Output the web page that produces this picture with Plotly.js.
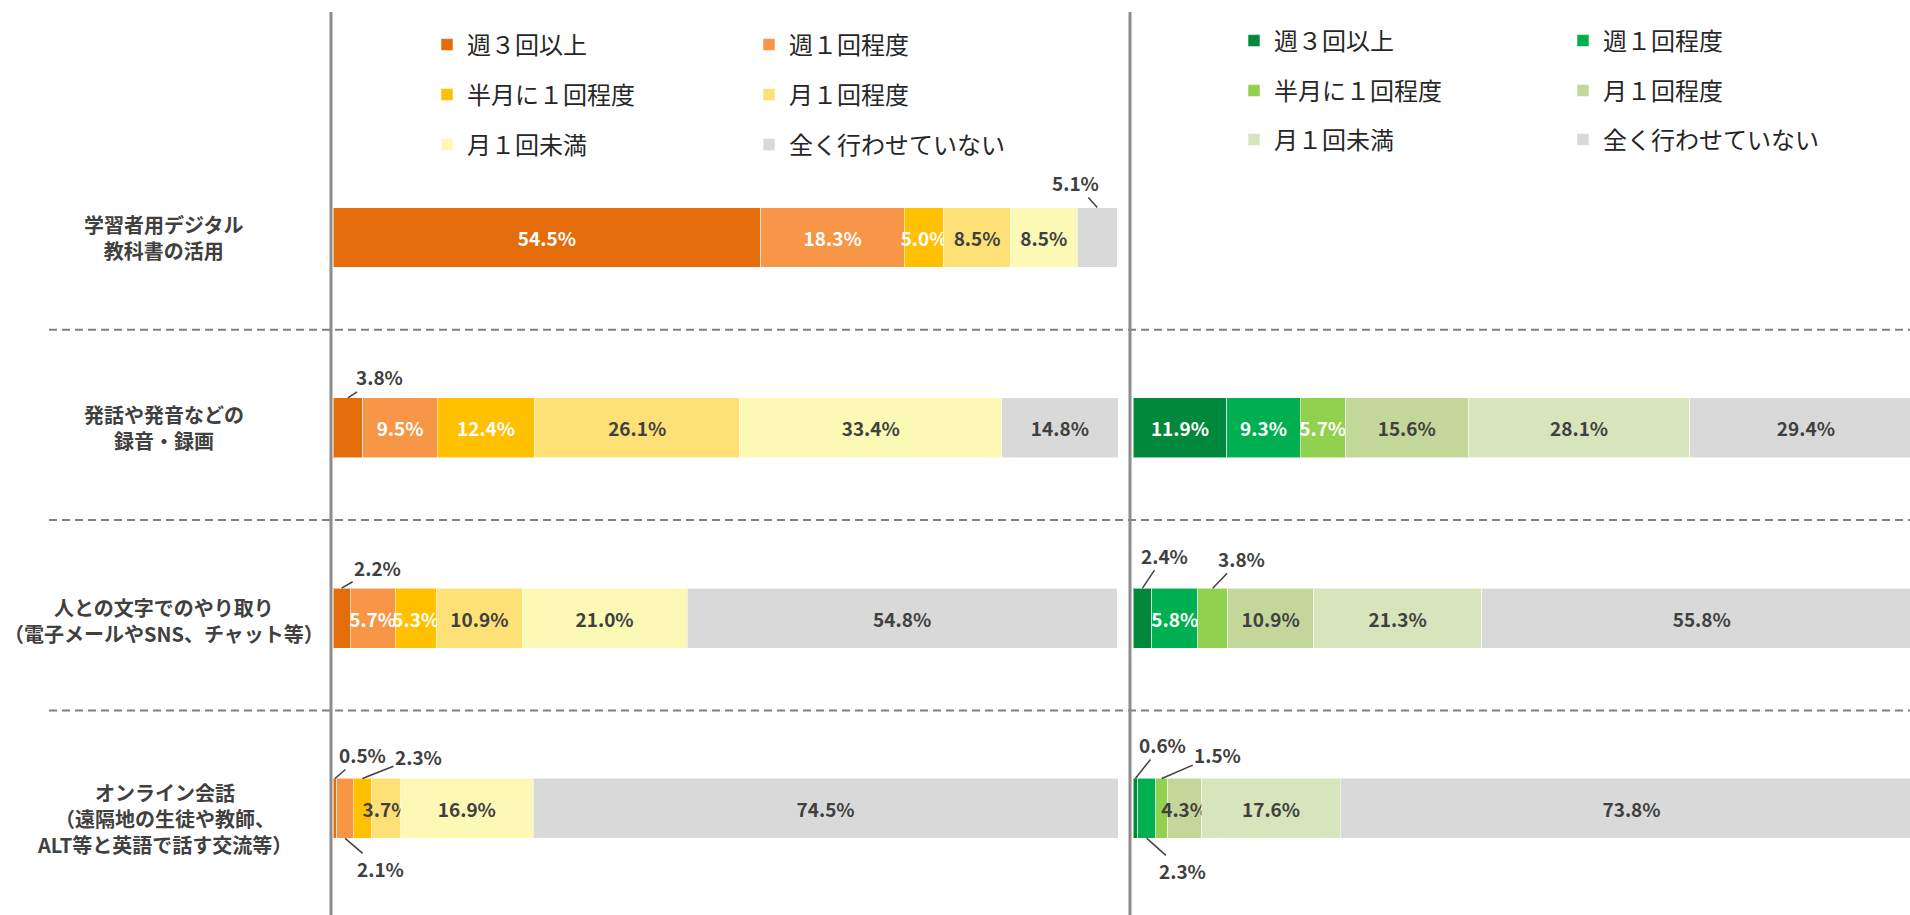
<!DOCTYPE html>
<html><head><meta charset="utf-8">
<script src="https://cdn.plot.ly/plotly-3.0.1.min.js"></script>
<style>html,body{margin:0;padding:0;background:#fff;}#chart{width:1910px;height:915px;}</style>
</head><body><div id="chart"></div>
<script>
// ---- data ----
const categories = [
  '学習者用デジタル<br>教科書の活用',
  '発話や発音などの<br>録音・録画',
  '人との文字でのやり取り<br>（電子メールやSNS、チャット等）',
  'オンライン会話<br>（遠隔地の生徒や教師、<br>ALT等と英語で話す交流等）'
];
const seriesNames = ['週３回以上','週１回程度','半月に１回程度','月１回程度','月１回未満','全く行わせていない'];

const left_week3  = [54.5, 3.8, 2.2, 0.5];
const left_week1  = [18.3, 9.5, 5.7, 2.1];
const left_half   = [5.0, 12.4, 5.3, 2.3];
const left_month1 = [8.5, 26.1, 10.9, 3.7];
const left_less   = [8.5, 33.4, 21.0, 16.9];
const left_never  = [5.1, 14.8, 54.8, 74.5];

const right_week3  = [null, 11.9, 2.4, 0.6];
const right_week1  = [null, 9.3, 5.8, 2.3];
const right_half   = [null, 5.7, 3.8, 1.5];
const right_month1 = [null, 15.6, 10.9, 4.3];
const right_less   = [null, 28.1, 21.3, 17.6];
const right_never  = [null, 29.4, 55.8, 73.8];

const leftSeries  = [left_week3, left_week1, left_half, left_month1, left_less, left_never];
const rightSeries = [right_week3, right_week1, right_half, right_month1, right_less, right_never];

// labels drawn outside the bar with a leader line: panel, row, series, label offset (px)
const callouts = [
  {panel:0,row:0,series:5,ax:-22,ay:-25},
  {panel:0,row:1,series:0,ax:32,ay:-21},
  {panel:0,row:2,series:0,ax:36,ay:-21},
  {panel:0,row:3,series:0,ax:28,ay:-24},
  {panel:0,row:3,series:1,ax:35,ay:30},
  {panel:0,row:3,series:2,ax:56,ay:-22},
  {panel:1,row:2,series:0,ax:22,ay:-33},
  {panel:1,row:2,series:2,ax:29,ay:-30},
  {panel:1,row:3,series:0,ax:27,ay:-34},
  {panel:1,row:3,series:1,ax:36,ay:32},
  {panel:1,row:3,series:2,ax:56,ay:-24}
];

// ---- styles ----
const leftColors  = ['#E46C0A','#F79646','#FFC000','#FDE176','#FCF8B6','#D9D9D9'];
const rightColors = ['#00893D','#00B050','#92D050','#C4D79B','#D8E4BC','#D9D9D9'];
const textColors  = ['#FFFFFF','#FFFFFF','#FFFFFF','#404040','#404040','#404040'];
const FONT = '"Noto Sans CJK JP", "Noto Sans", sans-serif';
const W = 1910, H = 915;
const BARW = 0.315;
const labelShift = [0, 0, -2, -10];

// legend placement (px): legend left x, text center y
const legendPos = [
  [[427,45],[749,45],[427,95],[749,95],[427,145],[749,145]],
  [[1234,41],[1563,41],[1234,91],[1563,91],[1234,140],[1563,140]]
];

function isCallout(p, r, s){ return callouts.some(c => c.panel===p && c.row===r && c.series===s); }

const traces = [];
const layout = {
  width: W, height: H,
  margin: {l:0, r:0, t:0, b:0},
  paper_bgcolor: '#fff', plot_bgcolor: 'rgba(0,0,0,0)',
  barmode: 'stack', bargap: 1 - BARW,
  showlegend: true,
  font: {family: FONT, color: '#404040'},
  xaxis:  {domain:[333/W, 1118/W], range:[0,100], visible:false, fixedrange:true},
  xaxis2: {domain:[1133/W, 1], range:[0,98.5], visible:false, anchor:'y', fixedrange:true},
  yaxis:  {type:'category', categoryarray: categories, range:[3.56,-1.248], autorange:false,
           showticklabels:false, showgrid:false, zeroline:false, showline:false, ticks:''},
  shapes: [], annotations: []
};

[leftSeries, rightSeries].forEach((series, p) => {
  const colors = p === 0 ? leftColors : rightColors;
  series.forEach((vals, s) => {
    const n = p*6 + s + 1;
    const lname = 'legend' + (n === 1 ? '' : n);
    traces.push({
      type:'bar', orientation:'h', name: seriesNames[s],
      x: vals, y: categories,
      xaxis: p === 0 ? 'x' : 'x2', yaxis: 'y',
      marker: {color: colors[s], line:{color:'rgba(255,255,255,0.55)', width:1}},
      text: vals.map((v, r) => (v === null || isCallout(p, r, s)) ? '' : v.toFixed(1) + '%'),
      textposition: 'inside', insidetextanchor: 'middle', constraintext: 'none', textangle: 0,
      insidetextfont: {family: FONT, size: 19, color: textColors[s], weight: 700},
      hoverinfo: 'skip',
      legend: lname
    });
    const pos = legendPos[p][s];
    layout[lname] = {
      x: pos[0] / W, y: 1 - pos[1] / H, xanchor:'left', yanchor:'middle',
      orientation:'v', bgcolor:'rgba(0,0,0,0)', borderwidth:0,
      font:{family: FONT, size: 24, color:'#262626'},
      itemclick:false, itemdoubleclick:false
    };
  });
});

// callout annotations anchored on the segment midpoint at the bar edge
callouts.forEach(c => {
  const series = c.panel === 0 ? leftSeries : rightSeries;
  let before = 0;
  for (let k = 0; k < c.series; k++) before += series[k][c.row] || 0;
  const v = series[c.series][c.row];
  layout.annotations.push({
    xref: c.panel === 0 ? 'x' : 'x2', yref: 'y',
    x: before + v/2, y: c.row + (c.ay < 0 ? -BARW/2 : BARW/2),
    text: v.toFixed(1) + '%', showarrow: true, arrowhead: 0, arrowwidth: 1.5,
    arrowcolor: '#404040', standoff: 0, ax: c.ax, ay: c.ay,
    font: {family: FONT, size: 19, color: '#404040', weight: 700}
  });
});

// category labels
categories.forEach((cat, i) => {
  layout.annotations.push({
    xref:'paper', yref:'y', x: 164/W, y: i, xanchor:'center', yanchor:'middle',
    yshift: labelShift[i],
    text: cat, showarrow:false, align:'center',
    font:{family: FONT, size: 20, color:'#404040', weight: 700}
  });
});

// separators between categories
for (let i = 0; i < categories.length - 1; i++) {
  layout.shapes.push({type:'line', xref:'paper', yref:'y', x0: 49/W, x1: 1, y0: i + 0.485, y1: i + 0.485,
    line:{color:'#808080', width:2, dash:'8px,5px'}});
}
// panel axis lines
[331/W, 1130/W].forEach(xp => {
  layout.shapes.push({type:'line', xref:'paper', yref:'paper', x0: xp, x1: xp, y0: 0, y1: 1 - 12/H,
    line:{color:'#8C8C8C', width:3}});
});

Plotly.newPlot('chart', traces, layout, {displayModeBar:false, responsive:false});
</script>
</body></html>
